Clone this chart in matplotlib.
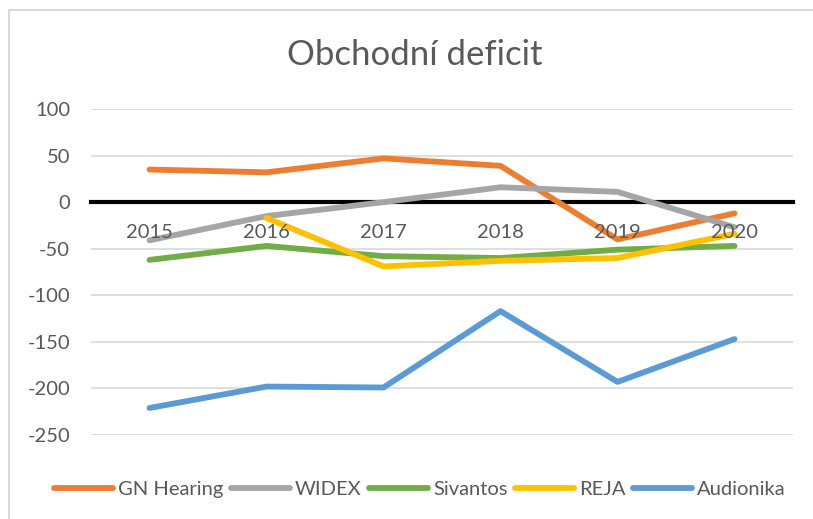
import numpy as np
import matplotlib
matplotlib.use("Agg")
import matplotlib.pyplot as plt
from matplotlib.patches import Rectangle

plt.rcParams['font.family'] = ['Lato', 'DejaVu Sans']
plt.rcParams['axes.unicode_minus'] = False

years = ['2015', '2016', '2017', '2018', '2019', '2020']
gn_hearing = [35, 32, 47, 39, -40, -12]
widex = [-41, -15, 0, 16, 11, -27]
sivantos = [-62, -47, -58, -60, -51, -47]
reja = [np.nan, -17, -69, -63, -60, -34]
audionika = [-221, -198, -199, -117, -193, -147]

series = [
    ('GN Hearing', gn_hearing, '#ED7D31'),
    ('WIDEX', widex, '#A5A5A5'),
    ('Sivantos', sivantos, '#70AD47'),
    ('REJA', reja, '#FFC000'),
    ('Audionika', audionika, '#5B9BD5'),
]

W, H = 813, 519
fig = plt.figure(figsize=(W / 100, H / 100), dpi=100)
ax = fig.add_axes([91 / W, 1 - 435 / H, 702 / W, 326 / H])

x = np.arange(len(years))
for name, vals, col in series:
    ax.plot(x, vals, color=col, lw=4.2, label=name, zorder=3,
            solid_capstyle='round', solid_joinstyle='round')

ax.set_xlim(-0.5, len(years) - 0.5)
ax.set_ylim(-250, 100)
ax.set_yticks(range(-250, 101, 50))
ax.grid(axis='y', color='#D9D9D9', lw=1.2)
ax.set_axisbelow(True)
# category labels sit on top of the lines, like in Excel
ax.xaxis.set_zorder(5)

for s in ['top', 'right', 'left']:
    ax.spines[s].set_visible(False)
ax.spines['bottom'].set_position(('data', 0))
ax.spines['bottom'].set_color('black')
ax.spines['bottom'].set_linewidth(3)
ax.spines['bottom'].set_zorder(2.5)

ax.set_xticks(x)
ax.set_xticklabels(years)
ax.tick_params(axis='x', length=0, pad=16, labelsize=14.5, labelcolor='#595959')
ax.tick_params(axis='y', length=0, pad=15, labelsize=14.5, labelcolor='#595959')

fig.text(415 / W, 1 - 55 / H, 'Obchodní deficit', ha='center', va='center',
         fontsize=25, color='#595959')

fig.legend(loc='center', bbox_to_anchor=(420 / W, 1 - 489 / H), ncol=5,
           frameon=False, fontsize=14.5, handlelength=2.9, handletextpad=0.25,
           columnspacing=0.4, labelcolor='#595959')

# chart frame (only top and left edges are visible in the crop)
fig.add_artist(Rectangle((9 / W, -0.1), 1.2, (H - 10) / H + 0.1,
                         transform=fig.transFigure, fill=False,
                         ec='#D9D9D9', lw=1.5))

fig.savefig('out.png', dpi=100)
